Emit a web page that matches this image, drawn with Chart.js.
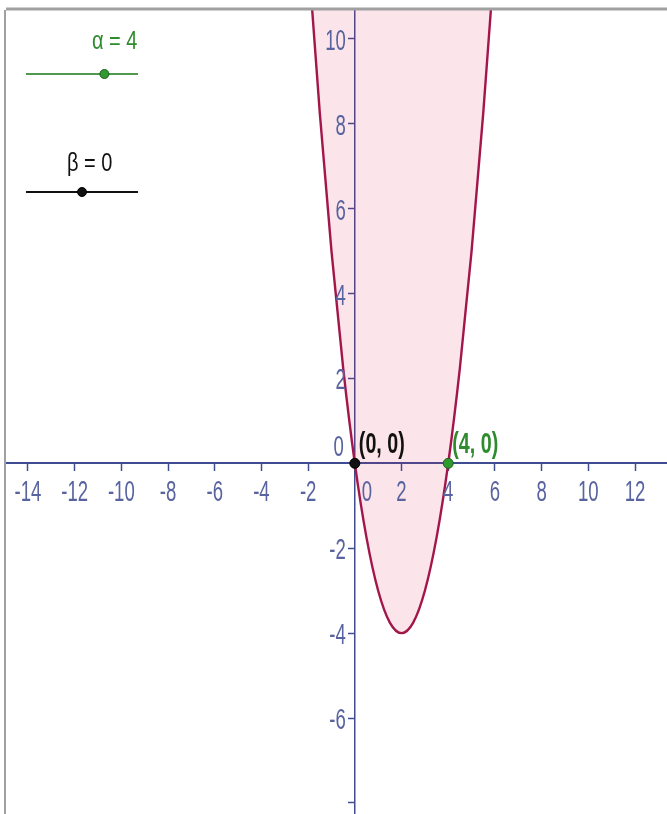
<!DOCTYPE html>
<html>
<head>
<meta charset="utf-8">
<script src="https://cdn.jsdelivr.net/npm/chart.js@4.4.0/dist/chart.umd.min.js"></script>
<style>
  html, body { margin: 0; padding: 0; background: #fff; }
  #wrap { width: 667px; height: 814px; position: relative; }
</style>
</head>
<body>
<div id="wrap"><canvas id="myChart" width="667" height="814"></canvas></div>
<script>
// curve f(x) = x(x - alpha)
const curveX = [-2, -1.5, -1, -0.5, 0, 0.5, 1, 1.5, 2, 2.5, 3, 3.5, 4, 4.5, 5, 5.5, 6];
const curveY = [12, 8.25, 5, 2.25, 0, -1.75, -3, -3.75, -4, -3.75, -3, -1.75, 0, 2.25, 5, 8.25, 12];

// the two marked roots
const rootX = [0, 4];
const rootY = [0, 0];
const rootLabels = ['(0, 0)', '(4, 0)'];

// tick marks and the labels shown (0 is drawn apart, like the original does)
const xTicks = [-14, -12, -10, -8, -6, -4, -2, 2, 4, 6, 8, 10, 12];
const yTicks = [-8, -6, -4, -2, 2, 4, 6, 8, 10];
const yTickLabels = [-6, -4, -2, 2, 4, 6, 8, 10];

// sliders
const sliderNames = ['α', 'β'];
const sliderValues = [4, 0];
const sliderMin = [-10, -5];
const sliderMax = [10, 5];

const xMin = -14.94, xMax = 13.37;
const yMin = -8.26, yMax = 10.68;

const fontFam = "'Liberation Sans', Arial, sans-serif";
const axisColor = '#3f4c92';
const tickColor = '#58639f';
const curveColor = '#a3164a';
const green = '#2e8b2e';

// text in the original is a tall condensed face, so squeeze it sideways
function narrowText(ctx, txt, x, y, align, sx) {
    ctx.save();
    ctx.translate(x, y);
    ctx.scale(sx, 1);
    ctx.textAlign = align;
    ctx.textBaseline = 'middle';
    ctx.fillText(txt, 0, 0);
    ctx.restore();
}

const overlay = {
    id: 'overlay',
    afterDraw(chart) {
        const ctx = chart.ctx;
        const xs = chart.scales.x, ys = chart.scales.y;
        const area = chart.chartArea;
        const x0 = xs.getPixelForValue(0), y0 = ys.getPixelForValue(0);
        ctx.save();

        // tick labels
        ctx.font = '29px ' + fontFam;
        ctx.fillStyle = tickColor;
        xTicks.forEach(v => narrowText(ctx, String(v), xs.getPixelForValue(v), y0 + 30, 'center', 0.64));
        yTickLabels.forEach(v => narrowText(ctx, String(v), x0 - 9, ys.getPixelForValue(v) + 3, 'right', 0.64));
        // origin labels, shifted off the axes
        narrowText(ctx, '0', x0 + 12, y0 + 30, 'center', 0.64);
        narrowText(ctx, '0', x0 - 11, y0 - 15, 'right', 0.64);

        // root labels
        ctx.font = 'bold 29px ' + fontFam;
        rootLabels.forEach((lbl, i) => {
            ctx.fillStyle = i == 0 ? '#111' : green;
            narrowText(ctx, lbl, xs.getPixelForValue(rootX[i]) + 4, ys.getPixelForValue(rootY[i]) - 18, 'left', 0.68);
        });

        // sliders
        const sl = [
            {text: 42, line: 74, color: green, lineColor: '#4f9a4f', tx: 92},
            {text: 164, line: 192, color: '#111', lineColor: '#111', tx: 67}
        ];
        sl.forEach((s, i) => {
            ctx.font = '25px ' + fontFam;
            ctx.fillStyle = s.color;
            narrowText(ctx, sliderNames[i] + ' = ' + sliderValues[i], s.tx, s.text, 'left', 0.8);
            ctx.strokeStyle = s.lineColor;
            ctx.lineWidth = 2;
            ctx.beginPath();
            ctx.moveTo(26, s.line);
            ctx.lineTo(138, s.line);
            ctx.stroke();
            const px = 26 + 112 * (sliderValues[i] - sliderMin[i]) / (sliderMax[i] - sliderMin[i]);
            ctx.beginPath();
            ctx.arc(px, s.line, 4.5, 0, Math.PI * 2);
            ctx.fillStyle = i == 0 ? '#2f9a2f' : '#111';
            ctx.fill();
            ctx.lineWidth = 1;
            ctx.strokeStyle = i == 0 ? '#1d5e1d' : '#000';
            ctx.stroke();
        });

        // frame of the graphics view
        ctx.strokeStyle = '#a0a0a0';
        ctx.lineWidth = 3;
        ctx.beginPath();
        ctx.moveTo(area.left, area.top - 1);
        ctx.lineTo(chart.width, area.top - 1);
        ctx.stroke();
        ctx.lineWidth = 2;
        ctx.beginPath();
        ctx.moveTo(area.left - 1, area.top);
        ctx.lineTo(area.left - 1, chart.height);
        ctx.stroke();
        ctx.restore();
    }
};

new Chart(document.getElementById('myChart'), {
    type: 'scatter',
    data: {
        datasets: [
            {
                label: 'roots',
                data: rootX.map((x, i) => ({x: x, y: rootY[i]})),
                pointRadius: 5,
                pointBackgroundColor: ['#111', '#2f9a2f'],
                pointBorderColor: ['#000', '#1d5e1d'],
                pointBorderWidth: 1,
                order: 0
            },
            {
                label: 'f',
                data: curveX.map((x, i) => ({x: x, y: curveY[i]})),
                showLine: true,
                pointRadius: 0,
                borderColor: curveColor,
                borderWidth: 2.4,
                cubicInterpolationMode: 'monotone',
                fill: 'end',
                backgroundColor: 'rgba(220, 30, 85, 0.12)',
                order: 1
            }
        ]
    },
    options: {
        responsive: false,
        animation: false,
        layout: {autoPadding: false, padding: {top: 10, left: 6, right: 0, bottom: 0}},
        plugins: {legend: {display: false}, tooltip: {enabled: false}},
        scales: {
            x: {
                type: 'linear',
                position: {y: 0},
                min: xMin,
                max: xMax,
                afterBuildTicks: s => { s.ticks = xTicks.map(v => ({value: v})); },
                grid: {drawOnChartArea: false, drawTicks: true, tickLength: 7, tickColor: axisColor, tickWidth: 1.5},
                border: {color: axisColor, width: 2},
                ticks: {display: false}
            },
            y: {
                type: 'linear',
                position: {x: 0},
                min: yMin,
                max: yMax,
                afterBuildTicks: s => { s.ticks = yTicks.map(v => ({value: v})); },
                grid: {drawOnChartArea: false, drawTicks: true, tickLength: 6, tickColor: axisColor, tickWidth: 1.5},
                border: {color: axisColor, width: 1.5},
                ticks: {display: false}
            }
        }
    },
    plugins: [overlay]
});
</script>
</body>
</html>
